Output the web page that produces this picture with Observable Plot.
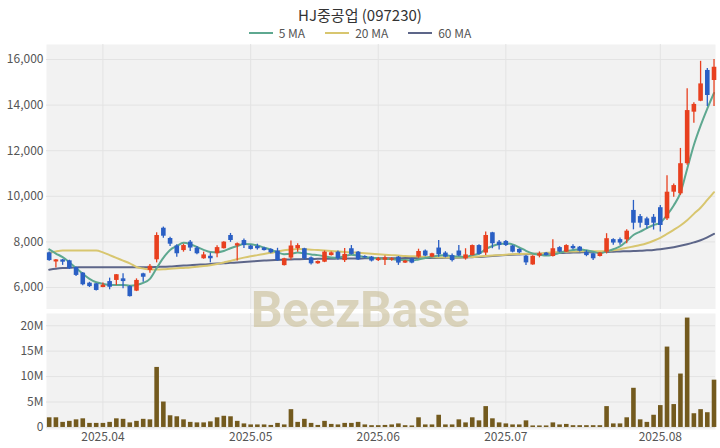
<!DOCTYPE html>
<html><head><meta charset="utf-8">
<script src="https://cdn.jsdelivr.net/npm/d3@7"></script>
<script src="https://cdn.jsdelivr.net/npm/@observablehq/plot@0.6"></script>
<style>
body{margin:0;background:#fff;}
#wrap{position:relative;width:720px;height:448px;overflow:hidden;font-family:"Noto Sans CJK KR","Noto Sans",sans-serif;}
#title{position:absolute;top:6px;left:0;width:720px;text-align:center;font-size:15px;color:#333;line-height:18px;}
#legend{position:absolute;top:26px;left:0;width:720px;display:flex;justify-content:center;gap:20px;font-size:12px;color:#555;line-height:13px;}
#legend .it{display:flex;align-items:center;gap:6px;}
#legend .sw{width:24px;height:2px;}
#price{position:absolute;top:40px;left:0;}
#vol{position:absolute;top:309px;left:0;}
#wm{position:absolute;top:285px;left:0;width:720px;text-align:center;font-family:Roboto,"Open Sans",sans-serif;font-weight:bold;font-size:50px;line-height:50px;color:rgba(196,184,140,0.55);pointer-events:none;letter-spacing:-0.5px;}
</style></head>
<body>
<div id="wrap">
  <div id="title"></div>
  <div id="legend"></div>
  <div id="price"></div>
  <div id="vol"></div>
  <div id="wm">BeezBase</div>
</div>
<script>
const chartTitle = "HJ중공업 (097230)";
const seriesNames = ["5 MA", "20 MA", "60 MA"];
const seriesColors = ["#5ea890", "#d8c66f", "#5d6689"];

const dates = [
"2025-03-20","2025-03-21","2025-03-24","2025-03-25","2025-03-26","2025-03-27","2025-03-28","2025-03-31",
"2025-04-01","2025-04-02","2025-04-03","2025-04-04","2025-04-07","2025-04-08","2025-04-09","2025-04-10","2025-04-11",
"2025-04-14","2025-04-15","2025-04-16","2025-04-17","2025-04-18","2025-04-21","2025-04-22","2025-04-23","2025-04-24","2025-04-25",
"2025-04-28","2025-04-29","2025-04-30",
"2025-05-02","2025-05-07","2025-05-08","2025-05-09","2025-05-12","2025-05-13","2025-05-14","2025-05-15","2025-05-16",
"2025-05-19","2025-05-20","2025-05-21","2025-05-22","2025-05-23","2025-05-26","2025-05-27","2025-05-28","2025-05-29","2025-05-30",
"2025-06-02","2025-06-04","2025-06-05","2025-06-09","2025-06-10","2025-06-11","2025-06-12","2025-06-13","2025-06-16","2025-06-17",
"2025-06-18","2025-06-19","2025-06-20","2025-06-23","2025-06-24","2025-06-25","2025-06-26","2025-06-27","2025-06-30",
"2025-07-01","2025-07-02","2025-07-03","2025-07-04","2025-07-07","2025-07-08","2025-07-09","2025-07-10","2025-07-11",
"2025-07-14","2025-07-15","2025-07-16","2025-07-17","2025-07-18","2025-07-21","2025-07-22","2025-07-23","2025-07-24","2025-07-25",
"2025-07-28","2025-07-29","2025-07-30","2025-07-31",
"2025-08-01","2025-08-04","2025-08-05","2025-08-06","2025-08-07","2025-08-08","2025-08-11","2025-08-12","2025-08-13"];

const open = [7520,7120,7210,7170,6880,6630,6190,6160,6000,6260,6310,6380,6040,5840,6600,6750,7215,8600,8150,7820,
7620,7990,7730,7260,7370,7480,7700,8280,7820,8060,7820,7800,7730,7670,7600,6960,7290,7700,7700,7300,
7040,7110,7400,7550,7180,7700,7550,7360,7330,7180,7200,7200,7330,7070,7260,7330,7600,7330,7730,7510,
7400,7600,7260,7400,7840,7510,8400,7990,8020,7820,7670,7370,6990,7380,7510,7360,7750,7550,7800,7770,
7550,7480,7360,7550,8100,8100,8090,9380,9110,9010,9080,9500,9010,10180,10110,11430,13690,14170,15520,15080];
const high = [7560,7230,7230,7200,6900,6660,6230,6180,6200,6410,6570,6600,6080,6380,6630,7010,8400,8650,8200,7880,
7900,8060,7800,7550,7510,7830,8010,8370,7950,8130,7850,7900,7760,7700,7720,7280,8040,7920,7720,7340,
7160,7600,7560,7600,7710,7840,7580,7390,7360,7320,7380,7300,7360,7180,7280,7680,7640,7500,8060,7570,
7470,7840,7700,7860,7870,8430,8420,8060,8060,7850,7700,7400,7390,7560,7540,8090,7790,7880,7880,7800,
7620,7500,7540,8360,8140,8170,8530,9820,9200,9080,9200,9600,10900,10540,12100,14720,14100,15920,15600,16000];
const low = [7150,6850,6970,6790,6480,6080,6000,5850,5990,5900,6090,5940,5580,5820,6230,6630,7080,8160,7800,7330,
7550,7580,7440,7240,7080,7310,7690,7980,7160,7710,7640,7640,7600,7480,7150,6940,7200,7550,7200,6990,
7020,7090,7380,7200,7100,7420,7180,7280,7120,7140,6960,7150,6970,7050,7040,7280,7350,7300,7330,7300,
7120,7350,7200,7380,7430,7400,7700,7640,7800,7520,7480,6970,6980,7300,7380,7340,7530,7530,7660,7560,
7350,7180,7340,7470,7850,7850,7920,8530,8610,8570,8520,8430,8940,9960,10040,11360,13200,14150,13940,13940];
const close = [7180,7210,7110,6820,6530,6120,6040,5870,6100,6010,6560,6260,5600,6310,6450,6930,8280,8250,7900,7480,
7840,7730,7480,7430,7260,7750,7990,8060,7920,7840,7670,7700,7620,7520,7180,7260,7820,7840,7260,7040,
7140,7550,7520,7260,7450,7450,7210,7300,7160,7260,7300,7260,7070,7160,7070,7580,7380,7480,7440,7330,
7180,7380,7430,7840,7450,8280,7920,7840,7840,7550,7520,7080,7370,7480,7400,7700,7550,7840,7700,7590,
7400,7260,7510,8140,7950,7950,8470,8820,8820,8720,8820,8720,10180,10470,11430,13760,14030,14930,14420,15660];
// volume in millions of shares
const volume = [1.9,1.9,1.0,1.2,1.5,1.7,0.8,0.8,0.8,1.0,1.7,1.6,0.9,1.2,1.6,1.5,11.8,5.0,2.3,2.1,
1.5,1.0,0.9,0.9,1.1,1.9,2.2,2.1,1.2,0.7,0.5,0.5,0.5,0.4,0.8,0.5,3.5,1.0,1.6,0.8,
0.4,1.2,0.6,0.5,0.8,0.8,1.0,0.5,0.35,0.35,0.4,0.5,0.7,0.35,0.3,1.9,0.5,0.5,2.4,0.5,
0.5,1.5,0.9,1.9,1.3,4.1,1.7,0.9,0.7,0.5,0.5,1.3,0.3,0.3,0.3,0.9,0.5,0.6,0.35,0.35,
0.35,0.35,0.35,4.1,0.7,0.7,1.9,7.7,1.5,1.0,2.4,4.3,15.8,4.5,10.5,21.5,2.7,3.5,2.9,9.3];
const ma5 = [7670,7490,7330,7110,6850,6600,6380,6230,6160,6110,6110,6110,6080,6110,6200,6380,6850,7300,
7650,7820,7960,7900,7780,7650,7560,7550,7600,7720,7820,7910,7900,7840,7750,7660,7540,7460,7480,
7530,7500,7450,7420,7370,7320,7310,7380,7440,7390,7340,7310,7280,7250,7250,7210,7210,7180,7230,
7290,7350,7400,7430,7370,7360,7340,7420,7480,7680,7820,7910,7930,7890,7760,7610,7490,7440,
7400,7440,7520,7600,7640,7680,7630,7570,7500,7580,7680,7800,8030,8300,8450,8600,8740,8840,9180,9600,10150,11200,12250,13100,13850,14530];
const ma20 = [7510,7580,7620,7620,7620,7620,7620,7620,7540,7420,7300,7180,7060,6900,6830,6790,
6790,6800,6820,6840,6860,6880,6910,6940,6980,7030,7100,7160,7240,7310,7370,7420,7470,7520,7580,7630,7660,
7690,7680,7660,7640,7620,7600,7580,7560,7540,7520,7500,7480,7460,7440,7420,7400,7380,7370,7360,
7340,7330,7320,7320,7320,7320,7330,7340,7360,7380,7400,7420,7440,7460,7470,7480,7480,7480,
7520,7540,7560,7570,7580,7590,7590,7590,7590,7600,7630,7680,7740,7800,7860,7940,8050,8180,8350,8530,8720,8950,9230,9500,9840,10180];
const ma60 = [6780,6820,6850,6870,6880,6890,6890,6890,6890,6890,6890,6890,6890,6890,6890,6890,
6900,6910,6920,6940,6960,6980,7000,7010,7030,7050,7060,7080,7100,7120,7140,7160,7180,7200,7210,7220,7230,
7240,7250,7250,7260,7260,7260,7270,7270,7270,7270,7280,7280,7280,7280,7280,7280,7290,7290,7290,
7290,7290,7290,7300,7300,7310,7320,7330,7340,7360,7380,7400,7420,7440,7450,7460,7470,7480,
7490,7500,7510,7520,7530,7540,7550,7550,7560,7560,7570,7580,7590,7600,7610,7630,7650,7680,7720,7770,7830,7900,7980,8070,8200,8350];

const monthTickDates = ["2025-04-01","2025-05-02","2025-06-02","2025-07-01","2025-08-01"];
const monthTickLabels = ["2025.04","2025.05","2025.06","2025.07","2025.08"];
const priceTicks = [6000,8000,10000,12000,14000,16000];
const volTicks = [0,5e6,10e6,15e6,20e6];
const volTickLabels = ["0","5M","10M","15M","20M"];

const UP = "#e8401f", DOWN = "#2a5fc4", VOLC = "#735a1e";
const BG = "#f2f2f2", GRID = "#e3e3e3";

const rows = dates.map((d, i) => ({
  i, date: d, o: open[i], h: high[i], l: low[i], c: close[i], v: volume[i] * 1e6,
  ma5: ma5[i], ma20: ma20[i], ma60: ma60[i],
  col: close[i] >= open[i] ? UP : DOWN
}));
const tickIdx = monthTickDates.map(d => dates.indexOf(d));

document.getElementById("title").textContent = chartTitle;
const leg = document.getElementById("legend");
seriesNames.forEach((n, k) => {
  const it = document.createElement("div"); it.className = "it";
  const sw = document.createElement("div"); sw.className = "sw"; sw.style.background = seriesColors[k];
  const tx = document.createElement("span"); tx.textContent = n;
  it.appendChild(sw); it.appendChild(tx); leg.appendChild(it);
});

const xDomain = [-0.4, 99.22];
const font = {fontFamily: "'Noto Sans CJK KR','Noto Sans',sans-serif", fontSize: "12px", background: "transparent", color: "#555"};

const price = Plot.plot({
  width: 720, height: 269, marginTop: 4, marginBottom: 0, marginLeft: 46, marginRight: 5,
  style: font,
  x: {domain: xDomain, axis: null},
  y: {domain: [5035, 16658], axis: null},
  marks: [
    Plot.frame({fill: BG, stroke: null}),
    Plot.gridX(tickIdx, {stroke: GRID, strokeOpacity: 1}),
    Plot.gridY(priceTicks, {stroke: GRID, strokeOpacity: 1}),
    Plot.axisY(priceTicks, {label: null, tickSize: 0, tickPadding: 3, tickFormat: d3.format(","), fill: "#555"}),
    Plot.line(rows, {x: "i", y: "ma60", stroke: seriesColors[2], strokeWidth: 2, curve: "monotone-x"}),
    Plot.line(rows, {x: "i", y: "ma20", stroke: seriesColors[1], strokeWidth: 2, curve: "monotone-x"}),
    Plot.line(rows, {x: "i", y: "ma5", stroke: seriesColors[0], strokeWidth: 2, curve: "monotone-x"}),
    Plot.ruleX(rows, {x: "i", y1: "l", y2: "h", stroke: "col", strokeWidth: 1.3}),
    Plot.ruleX(rows, {x: "i", y1: "o", y2: "c", stroke: "col", strokeWidth: 4.6})
  ]
});
document.getElementById("price").appendChild(price);

const vol = Plot.plot({
  width: 720, height: 139, marginTop: 4, marginBottom: 19, marginLeft: 46, marginRight: 5,
  style: font,
  x: {domain: xDomain, axis: null},
  y: {domain: [-0.4e6, 22.4e6], axis: null},
  marks: [
    Plot.frame({fill: BG, stroke: null}),
    Plot.gridX(tickIdx, {stroke: GRID, strokeOpacity: 1}),
    Plot.gridY(volTicks, {stroke: GRID, strokeOpacity: 1}),
    Plot.ruleX(rows, {x: "i", y1: 0, y2: "v", stroke: VOLC, strokeWidth: 4.6}),
    Plot.axisY(volTicks, {label: null, tickSize: 0, tickPadding: 3, tickFormat: d => volTickLabels[volTicks.indexOf(d)], fill: "#555"}),
    Plot.axisX(tickIdx, {label: null, tickSize: 0, tickPadding: 3, tickFormat: d => monthTickLabels[tickIdx.indexOf(d)], fill: "#555"})
  ]
});
document.getElementById("vol").appendChild(vol);
</script>
</body></html>
